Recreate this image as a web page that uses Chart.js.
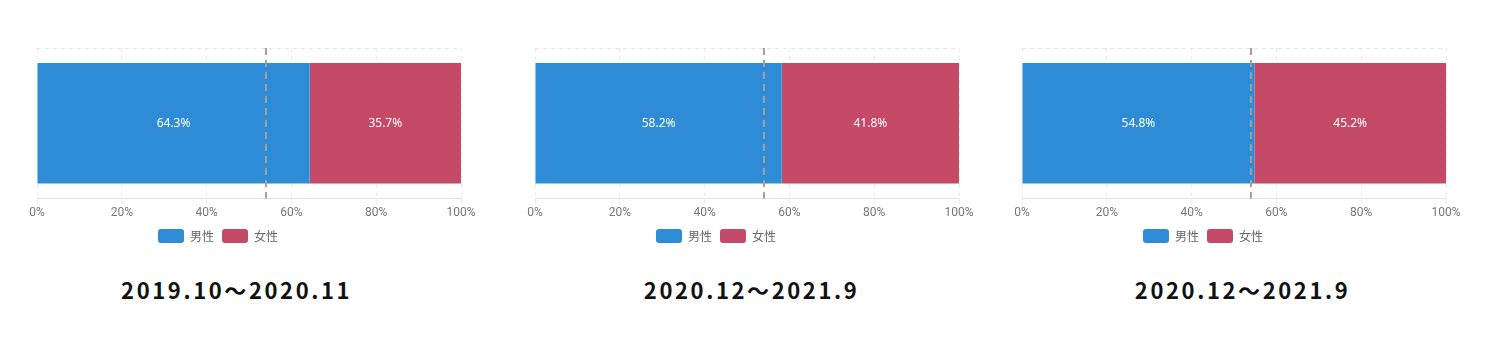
<!DOCTYPE html>
<html>
<head>
<meta charset="utf-8">
<script src="https://cdn.jsdelivr.net/npm/chart.js@4"></script>
<style>
  body { margin: 0; background: #fff; width: 1500px; height: 343px; overflow: hidden; position: relative; }
  .panel { position: absolute; top: 30px; width: 490px; height: 217px; }
  .title {
    position: absolute; top: 273px; width: 300px; text-align: center;
    font-family: "Noto Sans CJK JP", sans-serif; font-weight: 700;
    font-size: 22px; letter-spacing: 2.6px; padding-left: 2.6px; color: #111;
  }
</style>
</head>
<body>
<div class="panel" style="left:0px"><canvas id="c0"></canvas></div>
<div class="panel" style="left:498px"><canvas id="c1"></canvas></div>
<div class="panel" style="left:985px"><canvas id="c2"></canvas></div>
<div class="title" style="left:84px">2019.10～2020.11</div>
<div class="title" style="left:599px">2020.12～2021.9</div>
<div class="title" style="left:1090px">2020.12～2021.9</div>
<script>
const periods = ['2019.10～2020.11', '2020.12～2021.9', '2020.12～2021.9'];
const maleShare = [64.3, 58.2, 54.8];
const femaleShare = [35.7, 41.8, 45.2];
const seriesNames = ['男性', '女性'];
const seriesColors = ['#2e8cd7', '#c44a67'];
const averageLine = [54, 54, 54];
const xTicks = [0, 20, 40, 60, 80, 100];

// dashed vertical reference line
const avgLinePlugin = {
    id: 'avgLine',
    afterDatasetsDraw(chart, args, opts) {
        const x = chart.scales.x.getPixelForValue(opts.value);
        const area = chart.chartArea;
        const ctx = chart.ctx;
        ctx.save();
        ctx.strokeStyle = '#a0a0a0';
        ctx.lineWidth = 2;
        ctx.setLineDash([7, 5]);
        ctx.beginPath();
        ctx.moveTo(x, area.top);
        ctx.lineTo(x, area.bottom);
        ctx.stroke();
        ctx.restore();
    }
};

// percentage labels inside bars
const barLabelPlugin = {
    id: 'barLabel',
    afterDatasetsDraw(chart) {
        const ctx = chart.ctx;
        ctx.save();
        ctx.fillStyle = '#ffffff';
        ctx.font = '12px "Noto Sans", sans-serif';
        ctx.textAlign = 'center';
        ctx.textBaseline = 'middle';
        chart.data.datasets.forEach((ds, i) => {
            chart.getDatasetMeta(i).data.forEach((bar, j) => {
                const cx = (bar.x + bar.base) / 2;
                ctx.fillText(ds.data[j].toFixed(1) + '%', cx, bar.y);
            });
        });
        ctx.restore();
    }
};

// the legend in the source sits left of the plot centre
const legendShift = {
    id: 'legendShift',
    afterLayout(chart, args, opts) {
        const lg = chart.legend;
        if (!lg) return;
        lg.left += opts.dx;
        lg.right += opts.dx;
    }
};

function makeChart(id, idx) {
    const ctx = document.getElementById(id).getContext('2d');
    return new Chart(ctx, {
        type: 'bar',
        data: {
            labels: [periods[idx]],
            datasets: [
                { label: seriesNames[0], data: [maleShare[idx]], backgroundColor: seriesColors[0] },
                { label: seriesNames[1], data: [femaleShare[idx]], backgroundColor: seriesColors[1] }
            ]
        },
        options: {
            indexAxis: 'y',
            responsive: true,
            maintainAspectRatio: false,
            animation: false,
            barPercentage: 0.8,
            categoryPercentage: 1,
            layout: { padding: { left: 37, right: 29, top: 18, bottom: 0 } },
            scales: {
                x: {
                    stacked: true,
                    min: 0,
                    max: 100,
                    afterBuildTicks: axis => { axis.ticks = xTicks.map(v => ({ value: v })); },
                    ticks: {
                        callback: v => v + '%',
                        color: '#777',
                        font: { family: 'Roboto, "Noto Sans", sans-serif', size: 12 },
                        padding: 1,
                        maxRotation: 0
                    },
                    grid: { color: '#ececec', tickLength: 6 },
                    border: { color: '#e2e2e2', dash: [4, 4] }
                },
                y: {
                    stacked: true,
                    ticks: { display: false },
                    grid: { color: '#e6e6e6', drawTicks: false, offset: true },
                    border: { display: false, dash: [4, 4] }
                }
            },
            plugins: {
                legend: {
                    position: 'bottom',
                    maxHeight: 26,
                    labels: {
                        boxWidth: 26,
                        boxHeight: 14,
                        useBorderRadius: true,
                        borderRadius: 3,
                        color: '#666',
                        font: { family: '"Noto Sans CJK JP", sans-serif', size: 12 },
                        padding: 8
                    }
                },
                tooltip: { enabled: false },
                avgLine: { value: averageLine[idx] },
                legendShift: { dx: -31 }
            }
        },
        plugins: [avgLinePlugin, barLabelPlugin, legendShift]
    });
}

makeChart('c0', 0);
makeChart('c1', 1);
makeChart('c2', 2);
</script>
</body>
</html>
